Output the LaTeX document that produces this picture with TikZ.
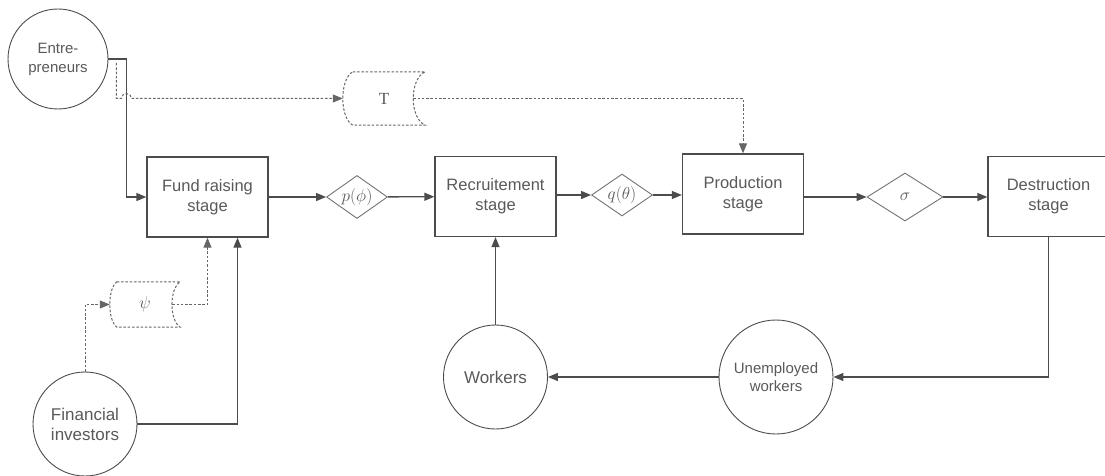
\documentclass[tikz,border=0pt]{standalone}
\usepackage{fontspec}
\setmainfont{Liberation Sans}
\newfontfamily\serifsym{Liberation Serif}
\usetikzlibrary{arrows.meta,shapes.geometric,calc}

% stored data outline round a plain node: #1 name, #2 left inset, #3 right bulge
\newcommand{\storeddata}[3]{%
    \draw[dotline]
        ([xshift=#2pt]#1.north west) -- (#1.north east)
        .. controls ([xshift=-#3pt,yshift=-7pt]#1.north east) and ([xshift=-#3pt,yshift=7pt]#1.south east) .. (#1.south east)
        -- ([xshift=#2pt]#1.south west)
        .. controls ([xshift=-#2pt/3,yshift=7pt]#1.south west) and ([xshift=-#2pt/3,yshift=-7pt]#1.north west) .. ([xshift=#2pt]#1.north west);
}

\begin{document}
\begin{tikzpicture}
        [
            x = 1pt, y = -1pt,
            every node/.style = {text=black!65, font=\fontsize{16.5}{20}\selectfont, align=center},
            stage/.style = {draw=black!70, line width=1.3pt, minimum width=121pt, minimum height=80pt, inner sep=0pt},
            agent/.style = {draw=black!70, line width=0.9pt, circle, inner sep=0pt, font=\fontsize{17}{20}\selectfont},
            rate/.style = {draw=black!55, line width=0.9pt, diamond, aspect=1.45, inner sep=0pt, font=\fontsize{19}{22}\selectfont},
            flow/.style = {draw=black!70, line width=1.3pt, -{Triangle[length=10pt,width=8pt]}},
            dotline/.style = {draw=black!60, line width=1pt, dash pattern=on 2.5pt off 1.8pt},
            dotflow/.style = {dotline, -{Triangle[length=10pt,width=8pt]}},
        ]
        \useasboundingbox (0,0) rectangle (1105,476);

        % agents
        \node[agent, minimum size=100pt, font=\fontsize{15}{19}\selectfont] (entre) at (58,59) {Entre-\\preneurs};
        \node[agent, minimum size=104pt] (finance) at (85,424) {Financial\\investors};
        \node[agent, minimum size=104pt] (workers) at (495.5,377) {Workers};
        \node[agent, minimum size=114pt, font=\fontsize{15}{18}\selectfont] (unemp) at (776,377) {Unemployed\\workers};

        % stages and rates
        \node[stage] (fund) at (207.5,197) {Fund raising\\stage};
        \node[rate, minimum width=61pt, minimum height=43pt] (pphi) at (357,197) {$p(\phi)$};
        \node[stage] (recruit) at (495.5,196.5) {Recruitement\\stage};
        \node[rate, minimum width=61pt, minimum height=42pt] (qtheta) at (622,195) {$q(\theta)$};
        \node[stage] (prod) at (743,194) {Production\\stage};
        \node[rate, minimum width=76pt, minimum height=48pt] (sigma) at (905,197) {$\sigma$};
        \node[stage] (destr) at (1048.5,196.5) {Destruction\\stage};

        % stored data
        \node[minimum width=82pt, minimum height=53pt, inner sep=0pt, font=\serifsym\fontsize{17}{20}\selectfont] (tdata) at (384,98.5) {T};
        \storeddata{tdata}{10}{16}
        \node[minimum width=70pt, minimum height=45pt, inner sep=0pt, font=\fontsize{18}{20}\selectfont] (psidata) at (145,304.5) {$\psi$};
        \storeddata{psidata}{7}{11}

        % main flow
        \draw[flow] (fund) -- (pphi);
        \draw[flow] (pphi) -- (recruit);
        \draw[flow] (recruit.east |- qtheta) -- (qtheta);
        \draw[flow] (qtheta) -- (prod.west |- qtheta);
        \draw[flow] (prod.east |- sigma) -- (sigma);
        \draw[flow] (sigma) -- (destr.west |- sigma);
        \draw[flow] (destr.south) |- (unemp.east);
        \draw[flow] (unemp) -- (workers);
        \draw[flow] (workers) -- (recruit);
        \draw[flow] (entre.east) -- ++(18,0) |- (fund.west);
        \draw[flow] (finance.east) -| ([xshift=30pt]fund.south);

        % information flows
        \draw[dotflow] ([xshift=8pt,yshift=-4pt]entre.east) |- ([xshift=13pt]entre.east |- tdata) coordinate (hop)
            arc[start angle=180, end angle=0, radius=5pt] -- (tdata.west);
        \draw[dotflow] ([xshift=-12pt]tdata.east) -| (prod.north);
        \draw[dotflow] (finance.north) |- (psidata.west);
        \draw[dotflow] ([xshift=-8pt]psidata.east) -| (fund.south);
    \end{tikzpicture}
\end{document}
